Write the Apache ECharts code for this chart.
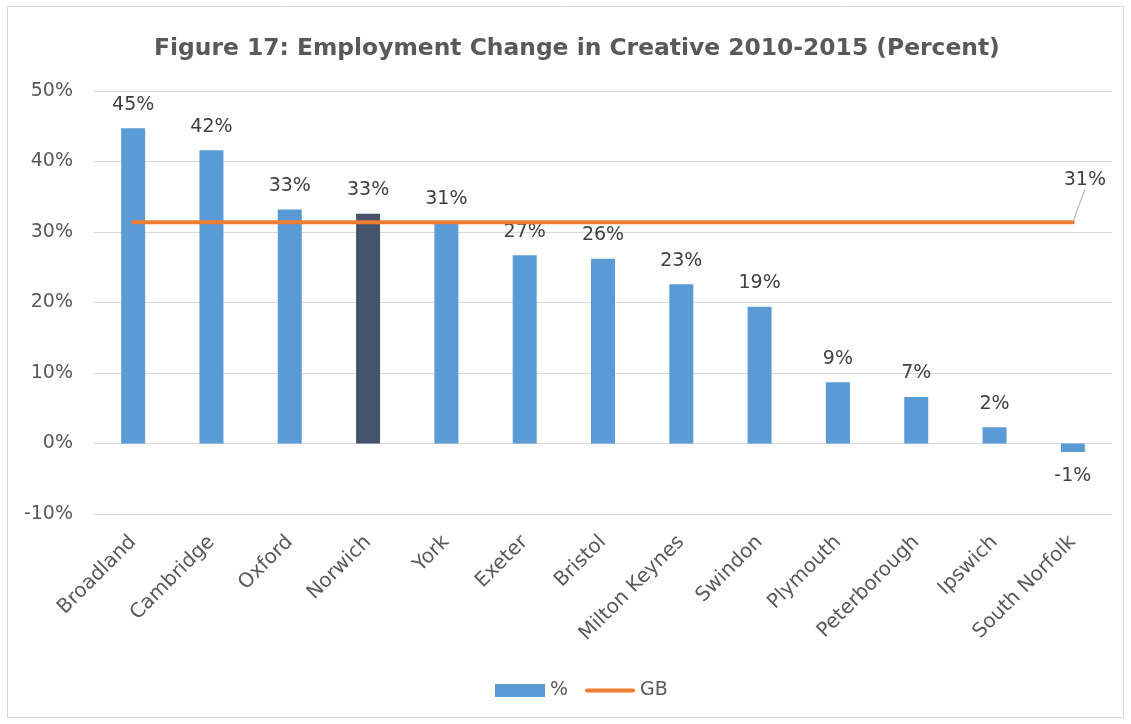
<!DOCTYPE html>
<html>
<head>
<meta charset="utf-8">
<script src="https://cdn.jsdelivr.net/npm/echarts@6/dist/echarts.min.js"></script>
<style>
  html, body { margin: 0; padding: 0; background: #fff; }
  #chart { width: 1131px; height: 724px; }
</style>
</head>
<body>
<div id="chart"></div>
<script>
// Employment change in the creative sector, 2010-2015, by area (percent)
const areas = ['Broadland', 'Cambridge', 'Oxford', 'Norwich', 'York', 'Exeter', 'Bristol',
  'Milton Keynes', 'Swindon', 'Plymouth', 'Peterborough', 'Ipswich', 'South Norfolk'];
const changePct = [44.7, 41.6, 33.2, 32.6, 31.3, 26.7, 26.2, 22.6, 19.4, 8.7, 6.6, 2.3, -1.2];
// Great Britain benchmark, drawn as a flat reference line across all areas
const gbPct = [31.4, 31.4, 31.4, 31.4, 31.4, 31.4, 31.4, 31.4, 31.4, 31.4, 31.4, 31.4, 31.4];
const highlightArea = 'Norwich';
const yTicks = { min: -10, max: 50, step: 10 };

const FONT = 'DejaVu Sans';
const TEXT = '#595959';
const LABEL = '#404040';
const BLUE = '#5B9BD5';
const NAVY = '#44546A';
const ORANGE = '#ED7D31';

const pct = p => Math.round(p.value) + '%';

const barData = changePct.map((v, i) => ({
  value: v,
  itemStyle: { color: areas[i] === highlightArea ? NAVY : BLUE },
  label: v < 0 ? { position: 'bottom', distance: 15 } : undefined
}));

// only the last point of the GB line carries a symbol, so it can hold the value label
const lineData = gbPct.map((v, i) => i === gbPct.length - 1
  ? { value: v, symbol: 'circle', symbolSize: 1, label: { show: true } }
  : v);

// rounded bar used as the legend key of the GB line
const lineKey = 'path://M2,0 L48,0 A2,2 0 0 1 48,4 L2,4 A2,2 0 0 1 2,0 Z';

const chart = echarts.init(document.getElementById('chart'));
chart.setOption({
  animation: false,
  backgroundColor: '#fff',
  title: {
    text: 'Figure 17: Employment Change in Creative 2010-2015 (Percent)',
    left: 149,
    top: 32,
    textStyle: { fontFamily: FONT, fontWeight: 'bold', fontSize: 23.4, color: TEXT }
  },
  graphic: [{
    type: 'rect',
    shape: { x: 7.5, y: 6.5, width: 1116, height: 711 },
    style: { fill: 'none', stroke: '#D9D9D9', lineWidth: 1 },
    silent: true
  }],
  legend: {
    bottom: 19,
    left: 490,
    itemGap: 17,
    itemWidth: 50,
    itemHeight: 13,
    textStyle: { fontFamily: FONT, fontSize: 19, color: TEXT },
    data: [
      { name: '%', icon: 'rect' },
      { name: 'GB', icon: lineKey }
    ]
  },
  grid: { left: 94, right: 19, top: 91, bottom: 210 },
  xAxis: {
    type: 'category',
    data: areas,
    axisLine: { show: false, onZero: false },
    axisTick: { show: false },
    axisLabel: {
      rotate: 45,
      margin: 25,
      interval: 0,
      fontFamily: FONT,
      fontSize: 20,
      color: TEXT
    }
  },
  yAxis: {
    type: 'value',
    min: yTicks.min,
    max: yTicks.max,
    interval: yTicks.step,
    axisLine: { show: false },
    axisTick: { show: false },
    splitLine: { lineStyle: { color: '#D9D9D9', width: 1 } },
    axisLabel: {
      formatter: '{value}%',
      margin: 21,
      fontFamily: FONT,
      fontSize: 19,
      color: TEXT
    }
  },
  series: [
    {
      name: '%',
      type: 'bar',
      barWidth: 24,
      itemStyle: { color: BLUE },
      data: barData,
      label: {
        show: true,
        position: 'top',
        distance: 14,
        fontFamily: FONT,
        fontSize: 19,
        color: LABEL,
        formatter: pct
      }
    },
    {
      name: 'GB',
      type: 'line',
      symbol: 'none',
      data: lineData,
      lineStyle: { color: ORANGE, width: 4, cap: 'round' },
      itemStyle: { color: ORANGE },
      z: 5,
      label: {
        show: false,
        position: 'top',
        fontFamily: FONT,
        fontSize: 19,
        color: LABEL,
        formatter: pct
      },
      labelLayout: { dx: 12, dy: -27 },
      labelLine: { show: true, lineStyle: { color: '#A6A6A6', width: 1 } }
    }
  ]
});
</script>
</body>
</html>
